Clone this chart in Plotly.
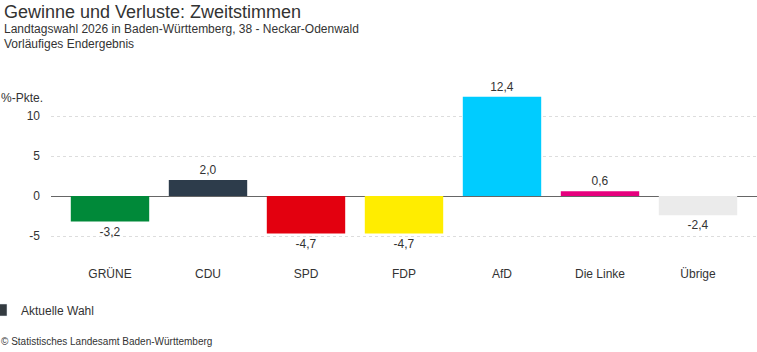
import plotly.graph_objects as go

parties = ["GRÜNE", "CDU", "SPD", "FDP", "AfD", "Die Linke", "Übrige"]
changes = [-3.2, 2.0, -4.7, -4.7, 12.4, 0.6, -2.4]
colors = ["#008939", "#2d3c4b", "#e3000f", "#ffed00", "#00ccff", "#e6007e", "#ebebeb"]
y_ticks = [-5, 0, 5, 10]
legend_name = "Aktuelle Wahl"

W, H = 757, 352
L, R, T, B = 51, 0, 92, 90
pw, ph = W - L - R, H - T - B

def px_x(p):
    return (p - L) / pw

def px_y(p):
    return (H - B - p) / ph

fig = go.Figure()
fig.add_trace(go.Bar(
    x=list(range(len(parties))), y=changes,
    marker=dict(color=colors, line=dict(width=0)),
    width=0.8,
    texttemplate="%{y:.1f}", textposition="outside",
    textfont=dict(size=12, color="#333333"),
    cliponaxis=False, constraintext="none",
    showlegend=False, hoverinfo="skip",
))
fig.add_trace(go.Bar(
    x=[None], y=[None], name=legend_name,
    marker=dict(color="#333a40"), showlegend=True,
))

font = "Liberation Sans, Arial, sans-serif"
annotations = [
    dict(text="Gewinne und Verluste: Zweitstimmen", x=px_x(2), y=px_y(12), xanchor="left", yanchor="middle",
         font=dict(size=18, color="#333333")),
    dict(text="Landtagswahl 2026 in Baden-Württemberg, 38 - Neckar-Odenwald", x=px_x(2), y=px_y(29),
         xanchor="left", yanchor="middle", font=dict(size=12, color="#333333")),
    dict(text="Vorläufiges Endergebnis", x=px_x(2), y=px_y(44), xanchor="left", yanchor="middle",
         font=dict(size=12, color="#333333")),
    dict(text="%-Pkte.", x=px_x(-1), y=px_y(98), xanchor="left", yanchor="middle",
         font=dict(size=12, color="#333333")),
    dict(text="© Statistisches Landesamt Baden-Württemberg", x=px_x(-1), y=px_y(341), xanchor="left",
         yanchor="middle", font=dict(size=10, color="#333333")),
]
for a in annotations:
    a.update(xref="paper", yref="paper", showarrow=False)

fig.update_layout(
    width=W, height=H,
    margin=dict(l=L, r=R, t=T, b=B, autoexpand=False),
    paper_bgcolor="white", plot_bgcolor="white",
    font=dict(family=font, size=12, color="#333333"),
    separators=",.",
    bargap=0.2,
    annotations=annotations,
    showlegend=True,
    legend=dict(x=px_x(-19), y=px_y(310),
                xanchor="left", yanchor="middle",
                orientation="h", font=dict(size=12, color="#333333"),
                bgcolor="rgba(0,0,0,0)"),
    xaxis=dict(tickmode="array", tickvals=list(range(len(parties))), ticktext=parties,
               range=[-0.602, 6.602], showgrid=False, zeroline=False, showline=False,
               ticks="", ticklabelstandoff=3,
               tickfont=dict(size=12, color="#333333"), fixedrange=True),
    yaxis=dict(range=[-8.25, 13], tickvals=y_ticks, ticktext=[str(v) for v in y_ticks],
               showgrid=True, gridcolor="#dddddd", griddash="dot", gridwidth=1,
               zeroline=True, zerolinecolor="#666666", zerolinewidth=1,
               showline=False, ticks="", ticklabelstandoff=10,
               tickfont=dict(size=12, color="#333333"), fixedrange=True),
)

fig.write_html("out.html")
